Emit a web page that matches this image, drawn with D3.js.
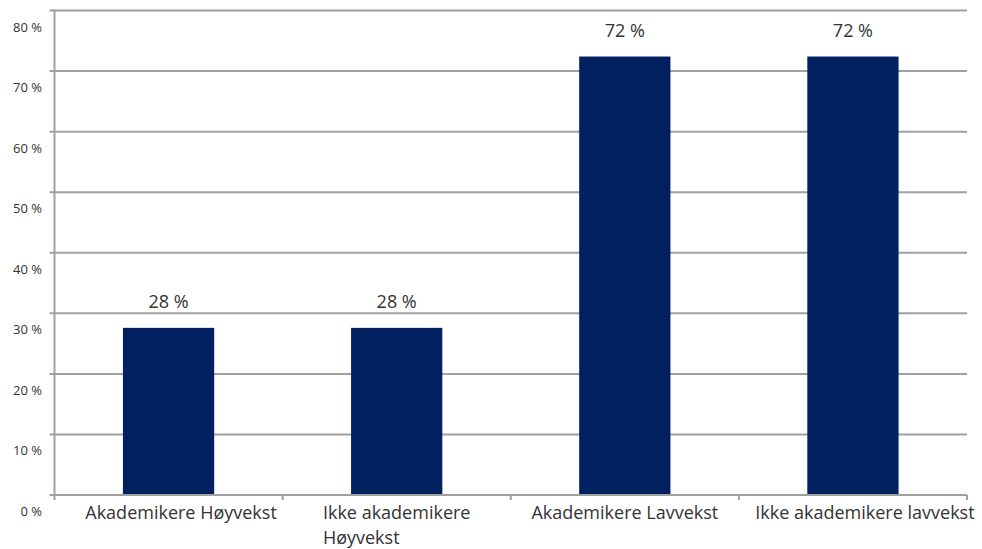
<!DOCTYPE html>
<html>
<head>
<meta charset="utf-8">
<script src="https://cdn.jsdelivr.net/npm/d3@7"></script>
<style>
  body { margin: 0; background: #fff; }
  text { font-family: "Open Sans", sans-serif; fill: #333; }
</style>
</head>
<body>
<div id="chart"></div>
<script>
// data
const categories = ["Akademikere Høyvekst", "Ikke akademikere Høyvekst", "Akademikere Lavvekst", "Ikke akademikere lavvekst"];
const shares = [27.6, 27.6, 72.4, 72.4];
const yTicks = [0, 10, 20, 30, 40, 50, 60, 70, 80];

const width = 982, height = 549;
const margin = { top: 10.5, right: 15, bottom: 54, left: 54.5 };

const svg = d3.select("#chart").append("svg")
    .attr("width", width)
    .attr("height", height);

const x = d3.scaleBand()
    .domain(categories)
    .range([margin.left, width - margin.right]);

const y = d3.scaleLinear()
    .domain([0, 80])
    .range([height - margin.bottom, margin.top]);

const gridColor = "#a0a0a0";

// gridlines
svg.append("g").selectAll("line")
    .data(yTicks.slice(1))
    .enter().append("line")
    .attr("x1", margin.left - 5)
    .attr("x2", width - margin.right)
    .attr("y1", d => y(d))
    .attr("y2", d => y(d))
    .attr("stroke", gridColor)
    .attr("stroke-width", 2);

// y tick labels (sitter litt under linjene, som i originalen)
svg.append("g").selectAll("text")
    .data(yTicks)
    .enter().append("text")
    .attr("x", 42)
    .attr("y", d => y(d) + 21)
    .attr("text-anchor", "end")
    .style("font-size", "13px")
    .text(d => d + " %");

// bars
const barW = x.bandwidth() * 0.4;
svg.append("g").selectAll("rect")
    .data(shares)
    .enter().append("rect")
    .attr("x", (d, i) => x(categories[i]) + (x.bandwidth() - barW) / 2)
    .attr("y", d => y(d))
    .attr("width", barW)
    .attr("height", d => y(0) - y(d))
    .attr("fill", "#002060");

// value labels
svg.append("g").selectAll("text")
    .data(shares)
    .enter().append("text")
    .attr("x", (d, i) => x(categories[i]) + x.bandwidth() / 2)
    .attr("y", d => y(d) - 20)
    .attr("text-anchor", "middle")
    .style("font-size", "18px")
    .text(d => d3.format(".0f")(d) + " %");

// axes
svg.append("line")
    .attr("x1", margin.left).attr("x2", margin.left)
    .attr("y1", margin.top - 1).attr("y2", y(0) + 5)
    .attr("stroke", gridColor).attr("stroke-width", 2);
svg.append("line")
    .attr("x1", margin.left - 5).attr("x2", width - margin.right)
    .attr("y1", y(0)).attr("y2", y(0))
    .attr("stroke", gridColor).attr("stroke-width", 2);
svg.append("g").selectAll("line")
    .data(categories)
    .enter().append("line")
    .attr("x1", d => x(d) + x.bandwidth())
    .attr("x2", d => x(d) + x.bandwidth())
    .attr("y1", y(0))
    .attr("y2", y(0) + 5)
    .attr("stroke", gridColor)
    .attr("stroke-width", 2);

// category labels
const labelLines = [["Akademikere Høyvekst"], ["Ikke akademikere", "Høyvekst"], ["Akademikere Lavvekst"], ["Ikke akademikere lavvekst"]];
const labelShift = [12.5, 0, 0, 12];
categories.forEach((c, i) => {
    const t = svg.append("text")
        .attr("y", y(0) + 24)
        .style("font-size", "18px");
    labelLines[i].forEach((line, j) => {
        t.append("tspan").attr("dy", j ? 24.5 : 0).text(line);
    });
    const first = t.select("tspan").node().getComputedTextLength();
    const cx = x(c) + x.bandwidth() / 2 + labelShift[i];
    t.selectAll("tspan").attr("x", cx - first / 2);
});
</script>
</body>
</html>
